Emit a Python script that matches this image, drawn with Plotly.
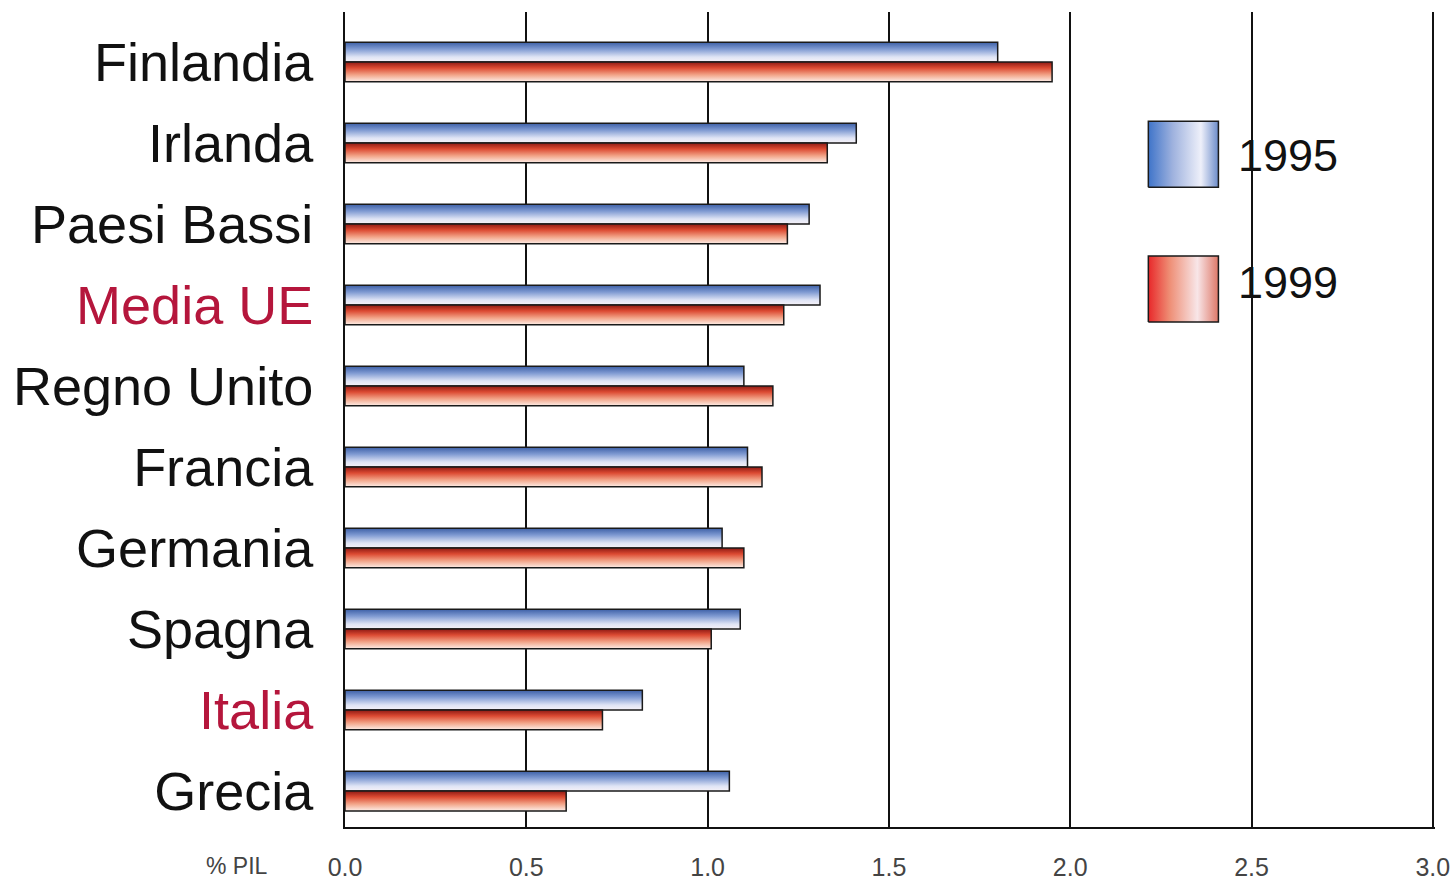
import plotly.graph_objects as go

# Spesa per ricerca (% PIL), 1995 vs 1999
paesi = ["Finlandia", "Irlanda", "Paesi Bassi", "Media UE", "Regno Unito",
         "Francia", "Germania", "Spagna", "Italia", "Grecia"]
valori_1995 = [1.80, 1.41, 1.28, 1.31, 1.10, 1.11, 1.04, 1.09, 0.82, 1.06]
valori_1999 = [1.95, 1.33, 1.22, 1.21, 1.18, 1.15, 1.10, 1.01, 0.71, 0.61]
evidenziati = ["Media UE", "Italia"]
x_ticks = [0.0, 0.5, 1.0, 1.5, 2.0, 2.5, 3.0]
anni = ["1995", "1999"]

FONT = "Liberation Sans, Arial, sans-serif"
ROSSO_TESTO = "#b5163c"
BORDO = "#1a1a1a"

# vertical shading of the bars (colorscale runs bottom edge -> top edge):
# pale at the bottom, dark at the top
scala_blu = [[0.0, "#f6f2f8"], [0.25, "#dfe4f5"], [0.65, "#7f9ad2"], [1.0, "#3c5fa6"]]
scala_rossa = [[0.0, "#fdeee8"], [0.35, "#f2a488"], [0.7, "#dc4a32"], [1.0, "#8e1a14"]]
# horizontal shading of the legend swatches
scala_blu_leg = [[0.0, "#3f74c9"], [0.35, "#9fb2de"], [0.75, "#eef0fa"], [1.0, "#6c8cca"]]
scala_rossa_leg = [[0.0, "#e8282a"], [0.3, "#ee8d74"], [0.7, "#f8e6e8"], [1.0, "#de7868"]]

H = 0.245  # half of a category slot used by each bar

fig = go.Figure()

for serie, scala, spost in ((valori_1995, scala_blu, -1), (valori_1999, scala_rossa, 0)):
    for i, v in enumerate(serie):
        y0 = i + spost * H
        y1 = y0 + H
        fig.add_trace(go.Scatter(
            x=[0, v, v, 0, 0],
            y=[y0, y0, y1, y1, y0],
            mode="lines",
            fill="toself",
            fillgradient=dict(type="vertical", colorscale=scala),
            line=dict(color=BORDO, width=1.5),
            hoverinfo="skip",
            showlegend=False,
        ))

# legend swatches on an overlay axis pair spanning the plot area (0..1)
leg_x0, leg_x1 = 0.737, 0.8013
leg_boxes = [(0.785, 0.866), (0.6196, 0.7006)]
for (b0, b1), scala in zip(leg_boxes, (scala_blu_leg, scala_rossa_leg)):
    fig.add_trace(go.Scatter(
        x=[leg_x0, leg_x1, leg_x1, leg_x0, leg_x0],
        y=[b0, b0, b1, b1, b0],
        xaxis="x2", yaxis="y2",
        mode="lines",
        fill="toself",
        fillgradient=dict(type="horizontal", colorscale=scala),
        line=dict(color=BORDO, width=1.5),
        hoverinfo="skip",
        showlegend=False,
    ))

ticktext = [
    f'<span style="color:{ROSSO_TESTO}">{p}</span>' if p in evidenziati else p
    for p in paesi
]

fig.update_layout(
    width=1455, height=883,
    margin=dict(l=345, r=20, t=12, b=56, autoexpand=False),
    paper_bgcolor="white", plot_bgcolor="white",
    font=dict(family=FONT, color="#111"),
    xaxis=dict(
        range=[0, 3.006],
        tickvals=x_ticks,
        ticktext=[f"{t:.1f}" for t in x_ticks],
        tickfont=dict(size=25, color="#444"),
        showgrid=True, gridcolor="#111", gridwidth=2,
        showline=True, linecolor="#111", linewidth=2,
        zeroline=False, ticks="", ticklabelstandoff=17,
        automargin=False, fixedrange=True,
    ),
    yaxis=dict(
        range=[9.444, -0.617],
        tickvals=list(range(len(paesi))),
        ticktext=ticktext,
        tickfont=dict(size=54, color="#111"),
        showgrid=False, zeroline=False, ticks="",
        showline=True, linecolor="#111", linewidth=2,
        ticklabelstandoff=19,
        automargin=False, fixedrange=True,
    ),
    xaxis2=dict(range=[0, 1], overlaying="x", visible=False, fixedrange=True),
    yaxis2=dict(range=[0, 1], overlaying="y", visible=False, fixedrange=True),
    annotations=[
        dict(text="% PIL", xref="paper", yref="paper", x=-0.099, y=-0.048,
             xanchor="center", yanchor="middle", showarrow=False,
             font=dict(size=23, color="#444")),
        dict(text=anni[0], xref="paper", yref="paper", x=0.8175, y=0.8245,
             xanchor="left", yanchor="middle", showarrow=False,
             font=dict(size=45, color="#111")),
        dict(text=anni[1], xref="paper", yref="paper", x=0.8175, y=0.6675,
             xanchor="left", yanchor="middle", showarrow=False,
             font=dict(size=45, color="#111")),
    ],
)

fig.write_html("out.html")
